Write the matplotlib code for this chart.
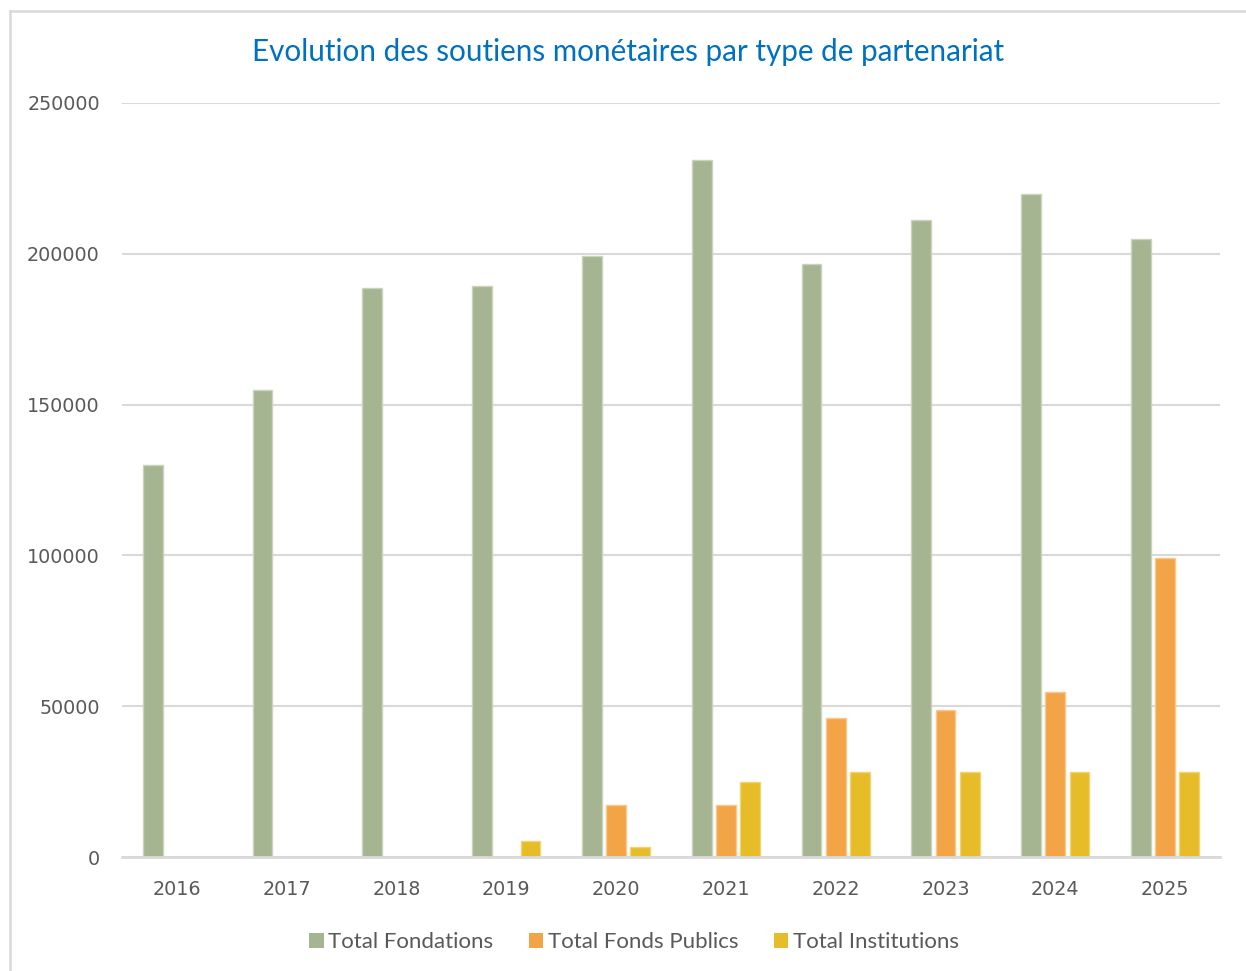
import matplotlib
matplotlib.use("Agg")
import matplotlib.pyplot as plt
import numpy as np
from matplotlib.patches import Patch

years = ["2016", "2017", "2018", "2019", "2020", "2021", "2022", "2023", "2024", "2025"]
fondations = [130000, 155000, 188700, 189300, 199300, 231100, 196600, 211200, 219800, 204900]
fonds_publics = [0, 0, 0, 0, 17200, 17200, 46100, 48700, 54700, 99100]
institutions = [0, 0, 0, 5300, 3300, 24900, 28200, 28200, 28200, 28200]
series_names = ["Total Fondations", "Total Fonds Publics", "Total Institutions"]
yticks = [0, 50000, 100000, 150000, 200000, 250000]

colors = ["#A5B592", "#F3A447", "#E7BC29"]
edges = ["#C9D3BE", "#F8C890", "#F0D577"]
text_color = "#595959"
grid_color = "#D9D9D9"

fig = plt.figure(figsize=(12.46, 9.71), dpi=100)
W, H = 1246, 971
ax = fig.add_axes([122 / W, (H - 857) / H, (1220 - 122) / W, (857 - 103) / H])

x = np.arange(len(years))
w = 0.18
off = 0.22
for i, (vals, c, e) in enumerate(zip([fondations, fonds_publics, institutions], colors, edges)):
    ax.bar(x + (i - 1) * off, vals, width=w, color=c, edgecolor=e, linewidth=1.0,
           label=series_names[i], zorder=3)

ax.set_xlim(-0.5, len(years) - 0.5)
ax.set_ylim(0, 250000)
ax.set_yticks(yticks)
ax.set_yticklabels([str(v) for v in yticks])
ax.set_xticks(x)
ax.set_xticklabels(years)
ax.grid(axis="y", color=grid_color, linewidth=1.5, zorder=0)
ax.set_axisbelow(True)
for s in ["top", "right", "left"]:
    ax.spines[s].set_visible(False)
ax.spines["bottom"].set_color(grid_color)
ax.spines["bottom"].set_linewidth(2)
ax.spines["bottom"].set_zorder(4)
ax.tick_params(axis="both", length=0, colors=text_color, labelsize=13.8)
ax.tick_params(axis="y", pad=16)
ax.tick_params(axis="x", pad=16.5)
for lbl in ax.get_xticklabels() + ax.get_yticklabels():
    lbl.set_family("DejaVu Sans")

fig.text(628 / W, 1 - 52 / H, "Evolution des soutiens monétaires par type de partenariat",
         ha="center", va="center", color="#0070C0", fontsize=21.3, family="Lato")

handles = [Patch(facecolor=c, edgecolor="none") for c in colors]
fig.legend(handles, series_names, loc="center", bbox_to_anchor=(634 / W, 1 - 942 / H),
           ncol=3, frameon=False, labelcolor=text_color,
           handlelength=0.65, handleheight=0.65, handletextpad=0.2, columnspacing=1.6,
           prop={"family": "Lato", "size": 16})

# chart border
fig.add_artist(plt.Line2D([10 / W, 10 / W], [0, 1 - 11 / H], transform=fig.transFigure,
                          color=grid_color, linewidth=1.8))
fig.add_artist(plt.Line2D([10 / W, 1], [1 - 11 / H, 1 - 11 / H], transform=fig.transFigure,
                          color=grid_color, linewidth=1.8))

fig.savefig("out.png", dpi=100, facecolor="white")
